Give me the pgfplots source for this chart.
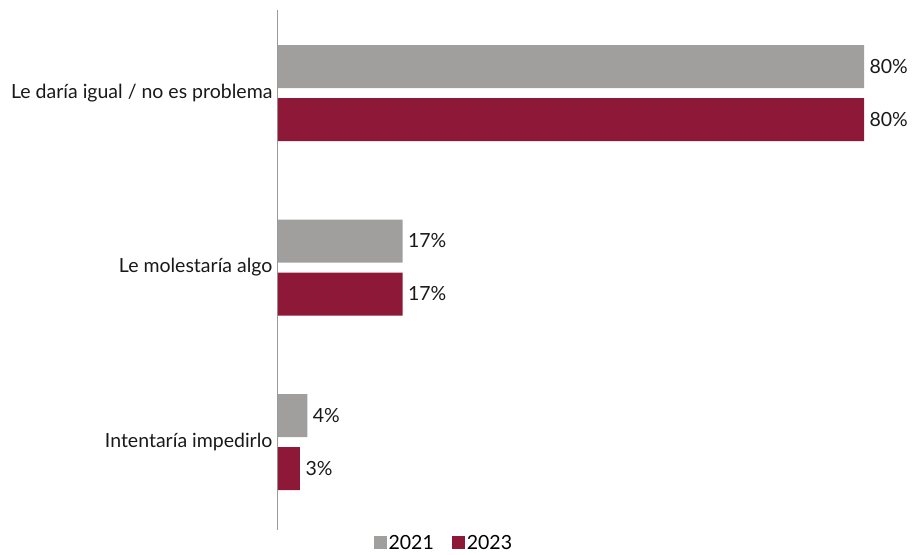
\documentclass[border=0pt]{standalone}
\usepackage{fontspec}
\setmainfont{Lato}
\usepackage{pgfplots}
\pgfplotsset{compat=1.18}
\definecolor{cgray}{HTML}{A09F9D}
\definecolor{cred}{HTML}{8E1838}
\definecolor{axgray}{HTML}{9A9A9A}
\begin{document}
\begin{tikzpicture}[font=\fontsize{19.5}{22}\selectfont]
\begin{axis}[
  scale only axis,
  width=586pt, height=520pt,
  xbar,
  xmin=0, xmax=80,
  ymin=-0.476, ymax=2.504,
  y dir=reverse,
  axis x line=none,
  axis y line*=left,
  y axis line style={draw=axgray, line width=1pt},
  ytick={0,1,2},
  yticklabels={Le daría igual / no es problema, Le molestaría algo, Intentaría impedirlo},
  major tick length=0pt,
  yticklabel style={xshift=-2pt, color=black!90},
  bar width=43pt,
  clip=false,
  nodes near coords={\pgfmathprintnumber{\pgfplotspointmeta}\%},
  nodes near coords style={color=black!90, xshift=2pt},
  /pgf/number format/assume math mode=true,
  legend style={at={(0.283,-0.002)}, anchor=north, draw=none, legend columns=2,
    /tikz/every even column/.append style={column sep=16pt}, font=\fontsize{19.5}{22}\selectfont},
  legend image code/.code={\fill[#1] (0pt,-6pt) rectangle (13pt,7pt);},
]
\addplot[fill=cgray, draw=none, bar shift=26.5pt] coordinates {(80,0) (17,1) (4,2)};
\addplot[fill=cred, draw=none, bar shift=-26.5pt] coordinates {(80,0) (17,1) (3,2)};
\legend{2021, 2023}
\path (axis cs:-37.95,-0.533) (axis cs:86.55,2.613);
\end{axis}
\end{tikzpicture}
\end{document}
